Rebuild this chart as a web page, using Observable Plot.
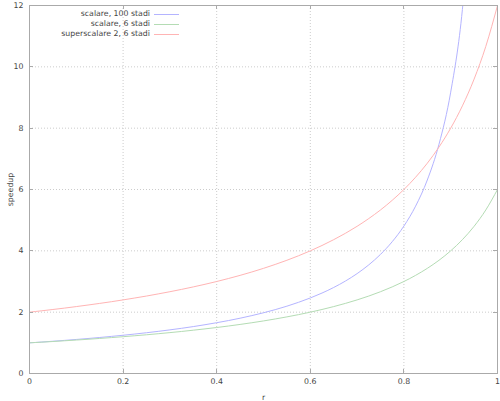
<!DOCTYPE html>
<html>
<head>
<meta charset="utf-8">
<script src="https://cdn.jsdelivr.net/npm/d3@7"></script>
<script src="https://cdn.jsdelivr.net/npm/@observablehq/plot@0.6"></script>
<style>
  html, body { margin: 0; padding: 0; background: #fff; }
  #chart svg { display: block; }
</style>
</head>
<body>
<div id="chart"></div>
<script>
// r values (x axis)
const r = [0, 0.025, 0.05, 0.075, 0.1, 0.125, 0.15, 0.175, 0.2, 0.225, 0.25, 0.275, 0.3, 0.325, 0.35, 0.375,
  0.4, 0.425, 0.45, 0.475, 0.5, 0.525, 0.55, 0.575, 0.6, 0.625, 0.65, 0.675, 0.7, 0.725, 0.75, 0.775,
  0.8, 0.825, 0.85, 0.875, 0.9, 0.925, 0.95, 0.975, 1];

// speedup values
const scalare100 = [1, 1.025, 1.052, 1.080, 1.110, 1.141, 1.174, 1.210, 1.247, 1.287, 1.329, 1.374, 1.423, 1.474, 1.530, 1.591,
  1.656, 1.726, 1.803, 1.888, 1.980, 2.082, 2.195, 2.322, 2.463, 2.623, 2.805, 3.014, 3.257, 3.543, 3.884, 4.297,
  4.808, 5.457, 6.309, 7.477, 9.174, 11.87, 16.81, null, null];
const scalare6 = [1, 1.021, 1.043, 1.067, 1.091, 1.116, 1.143, 1.171, 1.2, 1.231, 1.263, 1.297, 1.333, 1.371, 1.412, 1.455,
  1.5, 1.548, 1.6, 1.655, 1.714, 1.778, 1.846, 1.92, 2, 2.087, 2.182, 2.286, 2.4, 2.526, 2.667, 2.824,
  3, 3.2, 3.429, 3.692, 4, 4.364, 4.8, 5.333, 6];
const superscalare2 = [2, 2.043, 2.087, 2.133, 2.182, 2.233, 2.286, 2.341, 2.4, 2.462, 2.526, 2.595, 2.667, 2.743, 2.824, 2.909,
  3, 3.097, 3.2, 3.310, 3.429, 3.556, 3.692, 3.84, 4, 4.174, 4.364, 4.571, 4.8, 5.053, 5.333, 5.647,
  6, 6.4, 6.857, 7.385, 8, 8.727, 9.6, 10.667, 12];

const seriesNames = ["scalare, 100 stadi", "scalare, 6 stadi", "superscalare 2, 6 stadi"];
const seriesColors = ["#b4b4ff", "#b4dcb4", "#ffb4b4"];
const seriesValues = [scalare100, scalare6, superscalare2];

const xTicks = [0, 0.2, 0.4, 0.6, 0.8, 1];
const yTicks = [0, 2, 4, 6, 8, 10, 12];

const data = [];
seriesNames.forEach((name, i) => {
  r.forEach((x, j) => {
    const y = seriesValues[i][j];
    if (y != null) data.push({series: name, r: x, speedup: y});
  });
});

const font = "DejaVu Sans, sans-serif";
const textColor = "#444";

const plot = Plot.plot({
  width: 500,
  height: 401,
  marginLeft: 29,
  marginRight: 3,
  marginTop: 5,
  marginBottom: 28,
  style: {fontFamily: font, fontSize: "7.8px", color: textColor, background: "#fff"},
  x: {domain: [0, 1], ticks: xTicks, label: null},
  y: {domain: [0, 12], ticks: yTicks, label: null},
  color: {domain: seriesNames, range: seriesColors},
  marks: [
    Plot.gridX(xTicks, {stroke: "#ccc", strokeOpacity: 1, strokeDasharray: "1,2"}),
    Plot.gridY(yTicks, {stroke: "#ccc", strokeOpacity: 1, strokeDasharray: "1,2"}),
    Plot.axisX(xTicks, {anchor: "bottom", tickSize: 0, tickPadding: 5, tickFormat: d => String(d), label: "r", labelAnchor: "center", labelOffset: 26, labelArrow: "none"}),
    Plot.axisY(yTicks, {anchor: "left", tickSize: 0, tickPadding: 6, label: "speedup", labelAnchor: "center", labelOffset: 22, labelArrow: "none"}),
    Plot.line(data, {x: "r", y: "speedup", z: "series", stroke: "series", strokeWidth: 1, curve: "monotone-x", clip: true}),
    Plot.frame({stroke: "#aaa"})
  ]
});

document.getElementById("chart").appendChild(plot);

// inward tick marks (gnuplot style, mirrored)
const svgSel = d3.select(plot);
const xs = plot.scale("x"), ys = plot.scale("y");
const fLeft = 29, fRight = 497, fTop = 5, fBottom = 373;
const tg = svgSel.append("g").attr("stroke", "#aaa").attr("stroke-width", 1);
xTicks.forEach(t => {
  const px = Math.round(xs.apply(t)) + 0.5;
  tg.append("line").attr("x1", px).attr("x2", px).attr("y1", fBottom).attr("y2", fBottom - 4);
  tg.append("line").attr("x1", px).attr("x2", px).attr("y1", fTop).attr("y2", fTop + 4);
});
yTicks.forEach(t => {
  const py = Math.round(ys.apply(t)) + 0.5;
  tg.append("line").attr("y1", py).attr("y2", py).attr("x1", fLeft).attr("x2", fLeft + 4);
  tg.append("line").attr("y1", py).attr("y2", py).attr("x1", fRight).attr("x2", fRight - 4);
});

// legend inside plot, top-left
const lg = svgSel.append("g").attr("font-family", font).attr("font-size", "7.8px").attr("fill", textColor);
seriesNames.forEach((name, i) => {
  const yy = 14 + i * 10;
  lg.append("text").attr("x", 150).attr("y", yy).attr("dy", "0.32em").attr("text-anchor", "end").text(name);
  lg.append("line").attr("x1", 154).attr("x2", 179).attr("y1", yy + 0.5).attr("y2", yy + 0.5)
    .attr("stroke", seriesColors[i]).attr("stroke-width", 1);
});
</script>
</body>
</html>
